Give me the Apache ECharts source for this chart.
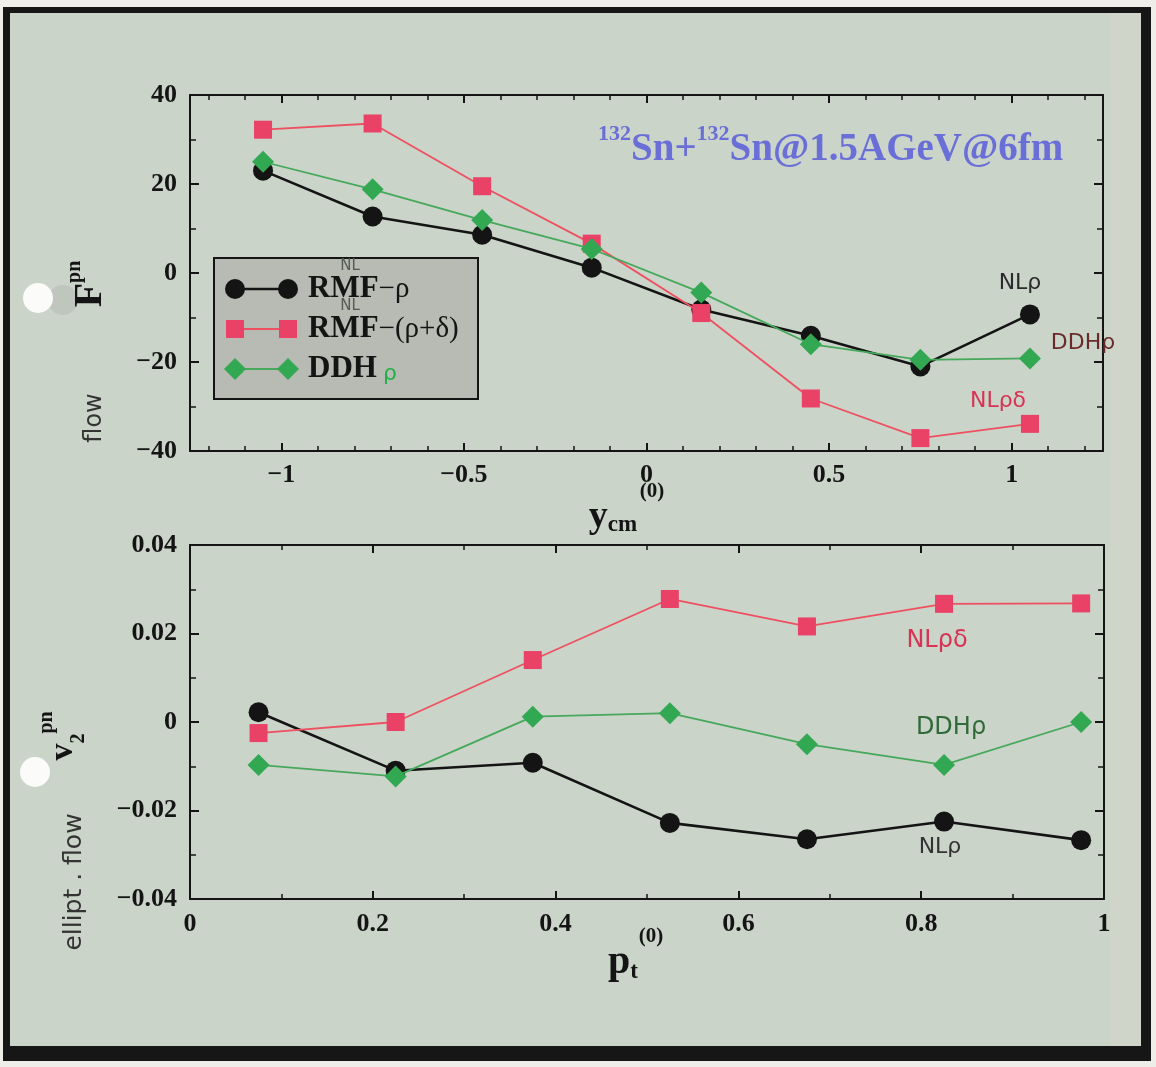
<!DOCTYPE html>
<html><head><meta charset="utf-8">
<script src="https://cdn.jsdelivr.net/npm/echarts@6/dist/echarts.min.js"></script>
<style>html,body{margin:0;padding:0;background:#efeeea;}#c{width:1156px;height:1067px;}</style>
</head><body><div id="c"></div>
<script>
// ---- data (top panel: F^pn vs y_cm) ----
const yCm = [-1.05, -0.75, -0.45, -0.15, 0.15, 0.45, 0.75, 1.05];
const fRho = [23.0, 12.7, 8.6, 1.2, -8.2, -14.1, -21.0, -9.3];
const fRhoDelta = [32.2, 33.6, 19.5, 6.6, -9.0, -28.2, -37.1, -33.9];
const fDDH = [25.0, 18.8, 11.9, 5.4, -4.4, -16.0, -19.5, -19.2];
// ---- data (bottom panel: v2^pn vs p_t) ----
const pT = [0.075, 0.225, 0.375, 0.525, 0.675, 0.825, 0.975];
const v2Rho = [0.0022, -0.0110, -0.0092, -0.0228, -0.0265, -0.0225, -0.0267];
const v2RhoDelta = [-0.0025, 0.0000, 0.0140, 0.0278, 0.0216, 0.0267, 0.0268];
const v2DDH = [-0.0097, -0.0123, 0.0012, 0.0020, -0.0050, -0.0097, 0.0000];
// ---- tick values ----
const topXMajor = [-1, -0.5, 0, 0.5, 1];
const topXMinor = [-1.2, -1.1, -0.9, -0.8, -0.7, -0.6, -0.4, -0.3, -0.2, -0.1, 0.1, 0.2, 0.3, 0.4, 0.6, 0.7, 0.8, 0.9, 1.1, 1.2];
const seriesNames = ['RMF\u2212\u03c1', 'RMF\u2212(\u03c1+\u03b4)', 'DDH'];

const INK = '#141414';
const RED = '#ea4166', RED_LINE = '#ef5060';
const GREEN = '#33a852', GREEN_LINE = '#46a85a';
const BLUE = '#6a6fd8';
const SERIF = '"Liberation Serif", "Times New Roman", serif';
const HAND = '"DejaVu Sans", sans-serif';

const fmt = v => {
  const a = parseFloat(Math.abs(v).toFixed(4));
  return (v < 0 ? '\u2212' : '') + String(a);
};
const labelStyle = { show: true, color: INK, fontFamily: SERIF, fontWeight: 'bold', fontSize: 26, formatter: fmt };
const lineSt = { show: true, onZero: false, lineStyle: { color: INK, width: 2 } };

function xAxisPair(grid, min, max, pos, withLabel, custom) {
  const axes = [];
  if (custom) {
    axes.push({
      type: 'value', gridIndex: grid, position: pos, min, max,
      axisLine: lineSt, splitLine: { show: false },
      axisTick: { show: true, inside: true, length: 8, customValues: topXMajor, lineStyle: { color: INK, width: 2 } },
      axisLabel: withLabel ? Object.assign({ margin: 11, customValues: topXMajor }, labelStyle) : { show: false }
    });
    axes.push({
      type: 'value', gridIndex: grid, position: pos, min, max,
      axisLine: { show: false, onZero: false }, splitLine: { show: false },
      axisTick: { show: true, inside: true, length: 5, customValues: topXMinor, lineStyle: { color: INK, width: 1.5 } },
      axisLabel: { show: false }
    });
  } else {
    axes.push({
      type: 'value', gridIndex: grid, position: pos, min, max, interval: 0.2,
      axisLine: lineSt, splitLine: { show: false },
      axisTick: { show: true, inside: true, length: 8, lineStyle: { color: INK, width: 2 } },
      minorTick: { show: true, splitNumber: 2, length: 5, lineStyle: { color: INK, width: 1.5 } },
      axisLabel: withLabel ? Object.assign({ margin: 12 }, labelStyle) : { show: false }
    });
  }
  return axes;
}
function yAx(grid, min, max, interval, pos, withLabel) {
  return {
    type: 'value', gridIndex: grid, position: pos, min, max, interval,
    axisLine: lineSt, splitLine: { show: false },
    axisTick: { show: true, inside: true, length: 9, lineStyle: { color: INK, width: 2 } },
    minorTick: { show: true, splitNumber: 2, length: 6, lineStyle: { color: INK, width: 1.5 } },
    axisLabel: withLabel ? Object.assign({ margin: 13 }, labelStyle) : { show: false }
  };
}

const xAxes = [].concat(
  xAxisPair(0, -1.25, 1.25, 'bottom', true, true),   // 0,1
  xAxisPair(0, -1.25, 1.25, 'top', false, true),     // 2,3
  xAxisPair(1, 0, 1, 'bottom', true, false),         // 4
  xAxisPair(1, 0, 1, 'top', false, false)            // 5
);
const yAxes = [
  yAx(0, -40, 40, 20, 'left', true),
  yAx(0, -40, 40, 20, 'right', false),
  yAx(1, -0.04, 0.04, 0.02, 'left', true),
  yAx(1, -0.04, 0.04, 0.02, 'right', false)
];

function mk(name, xs, ys, xi, yi, kind) {
  const base = { name, type: 'line', xAxisIndex: xi, yAxisIndex: yi, data: xs.map((x, i) => [x, ys[i]]), animation: false };
  if (kind === 0) Object.assign(base, { symbol: 'circle', symbolSize: 20, itemStyle: { color: INK }, lineStyle: { color: INK, width: 2.6 }, z: 3 });
  if (kind === 1) Object.assign(base, { symbol: 'rect', symbolSize: 18, itemStyle: { color: RED }, lineStyle: { color: RED_LINE, width: 1.8 }, z: 4 });
  if (kind === 2) Object.assign(base, { symbol: 'diamond', symbolSize: [22, 22], itemStyle: { color: GREEN }, lineStyle: { color: GREEN_LINE, width: 1.8 }, z: 5 });
  return base;
}
const series = [
  mk(seriesNames[0], yCm, fRho, 0, 0, 0),
  mk(seriesNames[1], yCm, fRhoDelta, 0, 0, 1),
  mk(seriesNames[2], yCm, fDDH, 0, 0, 2),
  mk(seriesNames[0], pT, v2Rho, 4, 2, 0),
  mk(seriesNames[1], pT, v2RhoDelta, 4, 2, 1),
  mk(seriesNames[2], pT, v2DDH, 4, 2, 2)
];

// ---- decorative / text graphics ----
const G = [];
// frame and paper strips
G.push({ type: 'rect', shape: { x: 0, y: 0, width: 1156, height: 7 }, style: { fill: '#f0eeea' } });
G.push({ type: 'rect', shape: { x: 1151, y: 0, width: 5, height: 1067 }, style: { fill: '#eeede8' } });
G.push({ type: 'rect', shape: { x: 0, y: 1061, width: 1156, height: 6 }, style: { fill: '#eeede8' } });
G.push({ type: 'rect', shape: { x: 0, y: 0, width: 3, height: 1067 }, style: { fill: '#eeede8' } });
G.push({ type: 'rect', shape: { x: 1110, y: 13, width: 31, height: 1035 }, style: { fill: '#d0d5ca' } });
G.push({ type: 'rect', shape: { x: 3, y: 7, width: 1148, height: 6 }, style: { fill: '#161616' } });
G.push({ type: 'rect', shape: { x: 3, y: 7, width: 7, height: 1054 }, style: { fill: '#161616' } });
G.push({ type: 'rect', shape: { x: 1141, y: 7, width: 10, height: 1054 }, style: { fill: '#161616' } });
G.push({ type: 'rect', shape: { x: 3, y: 1046, width: 1148, height: 15 }, style: { fill: '#161616' } });
// punch holes
G.push({ type: 'circle', shape: { cx: 63, cy: 300, r: 15 }, style: { fill: '#b4b9b2', opacity: 0.55 } });
G.push({ type: 'circle', shape: { cx: 38, cy: 298, r: 15 }, style: { fill: '#fbfbfa' } });
G.push({ type: 'circle', shape: { cx: 35, cy: 772, r: 15 }, style: { fill: '#fbfbfa' } });

// title annotation
G.push({ type: 'text', x: 598, y: 146, z: 50, style: {
  text: '{s|132}{b|Sn+}{s|132}{b|Sn@1.5AGeV@6fm}', textAlign: 'left', textVerticalAlign: 'middle',
  rich: {
    b: { fontFamily: SERIF, fontWeight: 'bold', fontSize: 39, fill: BLUE, lineHeight: 46, verticalAlign: 'bottom' },
    s: { fontFamily: SERIF, fontWeight: 'bold', fontSize: 22, fill: BLUE, lineHeight: 46, verticalAlign: 'top' }
  } } });

// axis titles
G.push({ type: 'text', x: 88, y: 284, rotation: Math.PI / 2, z: 50, style: {
  text: '{F|F}{s|pn}', textAlign: 'center', textVerticalAlign: 'middle',
  rich: {
    F: { fontFamily: SERIF, fontWeight: 'bold', fontSize: 40, fill: INK, lineHeight: 46, verticalAlign: 'bottom' },
    s: { fontFamily: SERIF, fontWeight: 'bold', fontSize: 20, fill: INK, lineHeight: 46, verticalAlign: 'top' }
  } } });
G.push({ type: 'text', x: 63, y: 736, rotation: Math.PI / 2, z: 50, style: {
  text: '{v|v}{b|2}{s|pn}', textAlign: 'center', textVerticalAlign: 'middle',
  rich: {
    v: { fontFamily: SERIF, fontWeight: 'bold', fontSize: 34, fill: INK, lineHeight: 52, verticalAlign: 'middle' },
    b: { fontFamily: SERIF, fontWeight: 'bold', fontSize: 20, fill: INK, lineHeight: 52, verticalAlign: 'bottom' },
    s: { fontFamily: SERIF, fontWeight: 'bold', fontSize: 20, fill: INK, lineHeight: 52, verticalAlign: 'top' }
  } } });
G.push({ type: 'text', x: 613, y: 517, z: 50, style: {
  text: '{y|y}{s|cm}', textAlign: 'center', textVerticalAlign: 'middle',
  rich: {
    y: { fontFamily: SERIF, fontWeight: 'bold', fontSize: 38, fill: INK, lineHeight: 40, verticalAlign: 'middle' },
    s: { fontFamily: SERIF, fontWeight: 'bold', fontSize: 23, fill: INK, lineHeight: 40, verticalAlign: 'bottom' }
  } } });
G.push({ type: 'text', x: 652, y: 492, z: 50, style: { text: '(0)', fill: INK, font: 'bold 21px ' + SERIF, textAlign: 'center', textVerticalAlign: 'middle' } });
G.push({ type: 'text', x: 623, y: 963, z: 50, style: {
  text: '{p|p}{s|t}', textAlign: 'center', textVerticalAlign: 'middle',
  rich: {
    p: { fontFamily: SERIF, fontWeight: 'bold', fontSize: 40, fill: INK, lineHeight: 42, verticalAlign: 'middle' },
    s: { fontFamily: SERIF, fontWeight: 'bold', fontSize: 23, fill: INK, lineHeight: 42, verticalAlign: 'bottom' }
  } } });
G.push({ type: 'text', x: 651, y: 937, z: 50, style: { text: '(0)', fill: INK, font: 'bold 21px ' + SERIF, textAlign: 'center', textVerticalAlign: 'middle' } });

// legend box
G.push({ type: 'rect', z: 60, shape: { x: 214, y: 258, width: 264, height: 141 }, style: { fill: '#b8bbb3', stroke: INK, lineWidth: 2 } });
const rowY = [289, 329, 369];
G.push({ type: 'line', z: 61, shape: { x1: 235, y1: rowY[0], x2: 288, y2: rowY[0] }, style: { stroke: INK, lineWidth: 2.6 } });
G.push({ type: 'circle', z: 62, shape: { cx: 235, cy: rowY[0], r: 10 }, style: { fill: INK } });
G.push({ type: 'circle', z: 62, shape: { cx: 288, cy: rowY[0], r: 10 }, style: { fill: INK } });
G.push({ type: 'line', z: 61, shape: { x1: 235, y1: rowY[1], x2: 288, y2: rowY[1] }, style: { stroke: RED_LINE, lineWidth: 1.8 } });
G.push({ type: 'rect', z: 62, shape: { x: 226, y: rowY[1] - 9, width: 18, height: 18 }, style: { fill: RED } });
G.push({ type: 'rect', z: 62, shape: { x: 279, y: rowY[1] - 9, width: 18, height: 18 }, style: { fill: RED } });
G.push({ type: 'line', z: 61, shape: { x1: 235, y1: rowY[2], x2: 288, y2: rowY[2] }, style: { stroke: GREEN_LINE, lineWidth: 1.8 } });
G.push({ type: 'polygon', z: 62, shape: { points: [[235, rowY[2] - 11], [246, rowY[2]], [235, rowY[2] + 11], [224, rowY[2]]] }, style: { fill: GREEN } });
G.push({ type: 'polygon', z: 62, shape: { points: [[288, rowY[2] - 11], [299, rowY[2]], [288, rowY[2] + 11], [277, rowY[2]]] }, style: { fill: GREEN } });
const legRich = {
  b: { fontFamily: SERIF, fontWeight: 'bold', fontSize: 31, fill: INK },
  r: { fontFamily: SERIF, fontWeight: 'normal', fontSize: 29, fill: INK },
  g: { fontFamily: HAND, fontSize: 22, fill: '#22b04a', padding: [10, 0, 0, 6] }
};
G.push({ type: 'text', z: 63, x: 308, y: rowY[0], style: { text: '{b|RMF}{r|\u2212\u03c1}', textAlign: 'left', textVerticalAlign: 'middle', rich: legRich } });
G.push({ type: 'text', z: 63, x: 308, y: rowY[1], style: { text: '{b|RMF}{r|\u2212(\u03c1+\u03b4)}', textAlign: 'left', textVerticalAlign: 'middle', rich: legRich } });
G.push({ type: 'text', z: 63, x: 308, y: rowY[2], style: { text: '{b|DDH}{g|\u03c1}', textAlign: 'left', textVerticalAlign: 'middle', rich: legRich } });
// handwritten "NL" over RMF
G.push({ type: 'text', z: 64, x: 350, y: 266, style: { text: 'NL', fill: '#555a55', font: '15px ' + HAND, textAlign: 'center', textVerticalAlign: 'middle' } });
G.push({ type: 'text', z: 64, x: 350, y: 306, style: { text: 'NL', fill: '#555a55', font: '15px ' + HAND, textAlign: 'center', textVerticalAlign: 'middle' } });

// handwritten annotations
function hand(x, y, t, color, size, rot) {
  G.push({ type: 'text', z: 70, x, y, rotation: rot || 0, style: { text: t, fill: color, font: (size || 22) + 'px ' + HAND, textAlign: 'center', textVerticalAlign: 'middle' } });
}
hand(1020, 283, 'NL\u03c1', '#2b2b2b', 22);
hand(1083, 343, 'DDH\u03c1', '#6a2a2a', 22);
hand(998, 401, 'NL\u03c1\u03b4', '#d83352', 22);
hand(937, 641, 'NL\u03c1\u03b4', '#d83352', 24);
hand(951, 728, 'DDH\u03c1', '#2f6a38', 24);
hand(940, 847, 'NL\u03c1', '#333333', 22);
hand(95, 418, 'flow', '#333333', 24, Math.PI / 2);
hand(74, 882, 'ellipt . flow', '#333333', 25, Math.PI / 2);

const option = {
  animation: false,
  backgroundColor: '#cad4c9',
  grid: [
    { left: 190, top: 95, width: 913, height: 356, containLabel: false },
    { left: 190, top: 545, width: 914, height: 354, containLabel: false }
  ],
  xAxis: xAxes,
  yAxis: yAxes,
  series,
  graphic: { elements: G }
};
const chart = echarts.init(document.getElementById('c'));
chart.setOption(option);
</script>
</body></html>
